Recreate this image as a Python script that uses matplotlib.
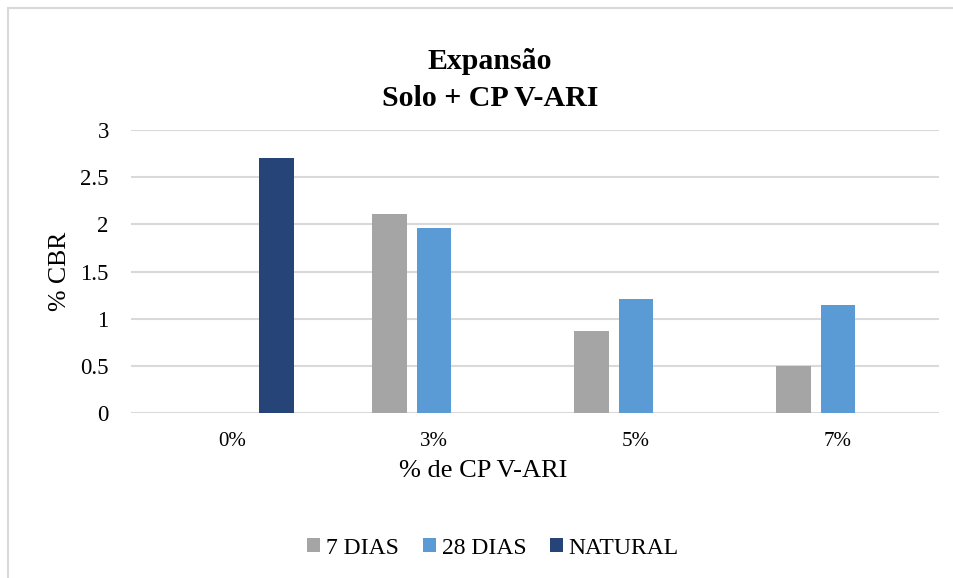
import numpy as np
import matplotlib
matplotlib.use("Agg")
import matplotlib.pyplot as plt
from matplotlib.patches import Rectangle

# data
categories = ["0%", "3%", "5%", "7%"]
dias7 = [np.nan, 2.11, 0.87, 0.50]
dias28 = [np.nan, 1.96, 1.21, 1.15]
natural = [2.70, np.nan, np.nan, np.nan]
series_names = ["7 DIAS", "28 DIAS", "NATURAL"]
colors = ["#a5a5a5", "#5b9bd5", "#264478"]
yticks = [0, 0.5, 1, 1.5, 2, 2.5, 3]

plt.rcParams["font.family"] = ["Liberation Serif", "DejaVu Serif"]

fig = plt.figure(figsize=(9.54, 5.78), dpi=100)
ax = fig.add_axes([131 / 954, 1 - 413 / 578, (939 - 131) / 954, (413 - 130) / 578])

x = np.arange(len(categories))
w = 0.173
for vals, off, c, name in zip([dias7, dias28, natural], [-0.22, 0.0, 0.22], colors, series_names):
    ax.bar(x + off, vals, width=w, color=c, label=name, zorder=3)

ax.set_xlim(-0.5, len(categories) - 0.5)
ax.set_ylim(0, 3)
ax.set_yticks(yticks)
ax.set_yticklabels([f"{t:g}" for t in yticks], fontsize=16.5)
ax.set_xticks(x)
ax.set_xticklabels(categories, fontsize=15)
ax.tick_params(length=0)
ax.tick_params(axis="y", pad=16)
ax.tick_params(axis="x", pad=14)
ax.yaxis.grid(True, color="#d9d9d9", lw=1.5, zorder=0)
for s in ax.spines.values():
    s.set_visible(False)

fig.text(60 / 954, 1 - 271 / 578, "% CBR", rotation=90, ha="center", va="center", fontsize=18.5)
fig.text(483 / 954, 1 - 471 / 578, "% de CP V-ARI", ha="center", va="center", fontsize=19)
fig.text(490 / 954, 1 - 80 / 578, "Expansão\nSolo + CP V-ARI", ha="center", va="center",
         fontsize=21.5, fontweight="bold", linespacing=1.45)

fig.legend(loc="center", bbox_to_anchor=(493 / 954, 1 - 548 / 578), ncol=3, frameon=False,
           fontsize=17, handlelength=0.55, handleheight=0.55, handletextpad=0.25,
           columnspacing=1.0)

# light chart-area border (left and top edges visible in the reference)
fig.patches.append(Rectangle((8 / 954, -0.1), 1.2, 1 - 8 / 578 + 0.1, transform=fig.transFigure,
                             fill=False, edgecolor="#d9d9d9", lw=1.5))

fig.savefig("out.png", dpi=100)
